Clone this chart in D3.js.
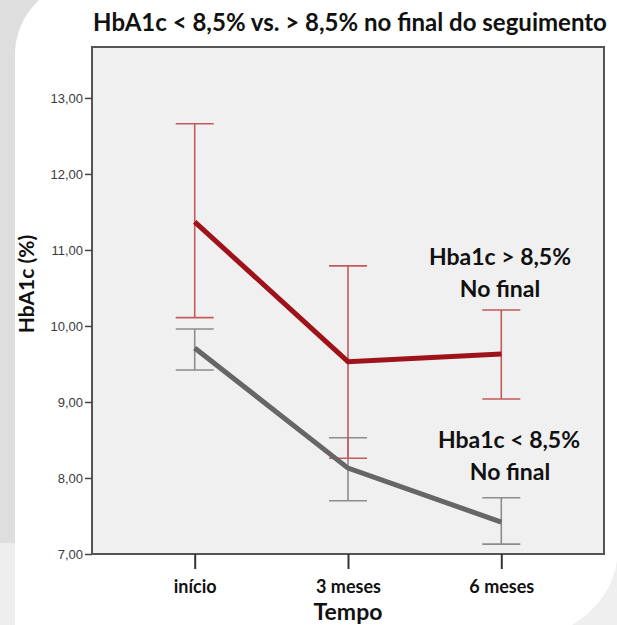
<!DOCTYPE html>
<html>
<head>
<meta charset="utf-8">
<script src="https://cdn.jsdelivr.net/npm/d3@7"></script>
<style>
  html, body { margin: 0; padding: 0; background: #fff; }
  svg { display: block; }
</style>
</head>
<body>
<svg id="grafico" width="617" height="625"></svg>
<script>
// dados
const tempos = ["início", "3 meses", "6 meses"];
const yTicks = [7, 8, 9, 10, 11, 12, 13];

// HbA1c > 8,5% no final
const altoMedia = [11.37, 9.53, 9.63];
const altoSup   = [12.66, 10.79, 10.21];
const altoInf   = [10.11, 8.26, 9.04];

// HbA1c < 8,5% no final
const baixoMedia = [9.71, 8.13, 7.42];
const baixoSup   = [9.96, 8.53, 7.74];
const baixoInf   = [9.42, 7.70, 7.13];

const svg = d3.select("#grafico");

// fundo do slide
svg.append("rect").attr("width", 617).attr("height", 625).attr("fill", "#ffffff");
svg.append("rect").attr("x", 0).attr("y", 0).attr("width", 80).attr("height", 543).attr("fill", "#dedede");
svg.append("rect").attr("x", 0).attr("y", 543).attr("width", 15).attr("height", 82).attr("fill", "#eeeeee");
svg.append("rect").attr("x", 15).attr("y", -20).attr("width", 700).attr("height", 700)
   .attr("rx", 75).attr("fill", "#ffffff");
svg.append("path")
   .attr("d", "M617,560 Q612,600 572,625 L617,625 Z")
   .attr("fill", "#efefef");

const plotL = 92, plotR = 604, plotT = 47, plotB = 554;

const x = d3.scalePoint()
            .domain(tempos)
            .range([plotL, plotR])
            .padding(0.67);

const y = d3.scaleLinear()
            .domain([7, 13.67])
            .range([plotB, plotT]);

const locale = d3.formatLocale({decimal: ",", thousands: ".", grouping: [3], currency: ["", ""]});
const fmt = locale.format(".2f");

// area do grafico
svg.append("rect")
   .attr("x", plotL).attr("y", plotT)
   .attr("width", plotR - plotL).attr("height", plotB - plotT)
   .attr("fill", "#f0f0f0")
   .attr("stroke", "#555")
   .attr("stroke-width", 2);

// eixos
const gY = svg.append("g")
              .attr("transform", `translate(${plotL},0)`)
              .call(d3.axisLeft(y).tickValues(yTicks).tickFormat(fmt).tickSize(7).tickPadding(2));
gY.select(".domain").remove();
gY.selectAll(".tick line").attr("stroke", "#444").attr("stroke-width", 1.5);
gY.selectAll(".tick text")
  .attr("fill", "#3a3a3a")
  .style("font-family", "Liberation Sans, Arial, sans-serif")
  .style("font-size", "13px");

const gX = svg.append("g")
              .attr("transform", `translate(0,${plotB})`)
              .call(d3.axisBottom(x).tickSize(15).tickPadding(11));
gX.select(".domain").remove();
gX.selectAll(".tick line").attr("stroke", "#333").attr("stroke-width", 2);
gX.selectAll(".tick text")
  .attr("fill", "#111")
  .style("font-family", "Lato, 'Open Sans', sans-serif")
  .style("font-weight", "bold")
  .style("font-size", "18px");

// barras de erro
function errorBars(sup, inf, color) {
  const g = svg.append("g").attr("stroke", color).attr("stroke-width", 1.6).attr("fill", "none");
  tempos.forEach((t, i) => {
    g.append("line").attr("x1", x(t)).attr("x2", x(t)).attr("y1", y(sup[i])).attr("y2", y(inf[i]));
    g.append("line").attr("x1", x(t) - 19).attr("x2", x(t) + 19).attr("y1", y(sup[i])).attr("y2", y(sup[i]));
    g.append("line").attr("x1", x(t) - 19).attr("x2", x(t) + 19).attr("y1", y(inf[i])).attr("y2", y(inf[i]));
  });
}

errorBars(baixoSup, baixoInf, "#8c8c8c");
errorBars(altoSup, altoInf, "#c25a5e");

const line = d3.line()
               .x((d, i) => x(tempos[i]))
               .y(d => y(d));

svg.append("path")
   .datum(baixoMedia)
   .attr("d", line)
   .attr("fill", "none")
   .attr("stroke", "#666666")
   .attr("stroke-width", 5);

svg.append("path")
   .datum(altoMedia)
   .attr("d", line)
   .attr("fill", "none")
   .attr("stroke", "#9e1219")
   .attr("stroke-width", 5);

// textos
const bold = "Lato, 'Open Sans', sans-serif";

svg.append("text")
   .attr("x", 350).attr("y", 31)
   .attr("text-anchor", "middle")
   .style("font-family", bold).style("font-weight", "bold").style("font-size", "24px")
   .attr("fill", "#111")
   .text("HbA1c < 8,5% vs. > 8,5% no final do seguimento");

svg.append("text")
   .attr("transform", "translate(34,284) rotate(-90)")
   .attr("text-anchor", "middle")
   .style("font-family", bold).style("font-weight", "bold").style("font-size", "21px")
   .attr("fill", "#111")
   .text("HbA1c (%)");

svg.append("text")
   .attr("x", 348).attr("y", 620)
   .attr("text-anchor", "middle")
   .style("font-family", bold).style("font-weight", "bold").style("font-size", "23px")
   .attr("fill", "#111")
   .text("Tempo");

const notas = [
  {t: "Hba1c > 8,5%", x: 500, y: 265},
  {t: "No final", x: 500, y: 297},
  {t: "Hba1c < 8,5%", x: 509, y: 448},
  {t: "No final", x: 510, y: 480}
];
svg.selectAll(".nota")
   .data(notas)
   .enter()
   .append("text")
   .attr("class", "nota")
   .attr("x", d => d.x).attr("y", d => d.y)
   .attr("text-anchor", "middle")
   .style("font-family", bold).style("font-weight", "bold").style("font-size", "23px")
   .attr("fill", "#111")
   .text(d => d.t);
</script>
</body>
</html>
